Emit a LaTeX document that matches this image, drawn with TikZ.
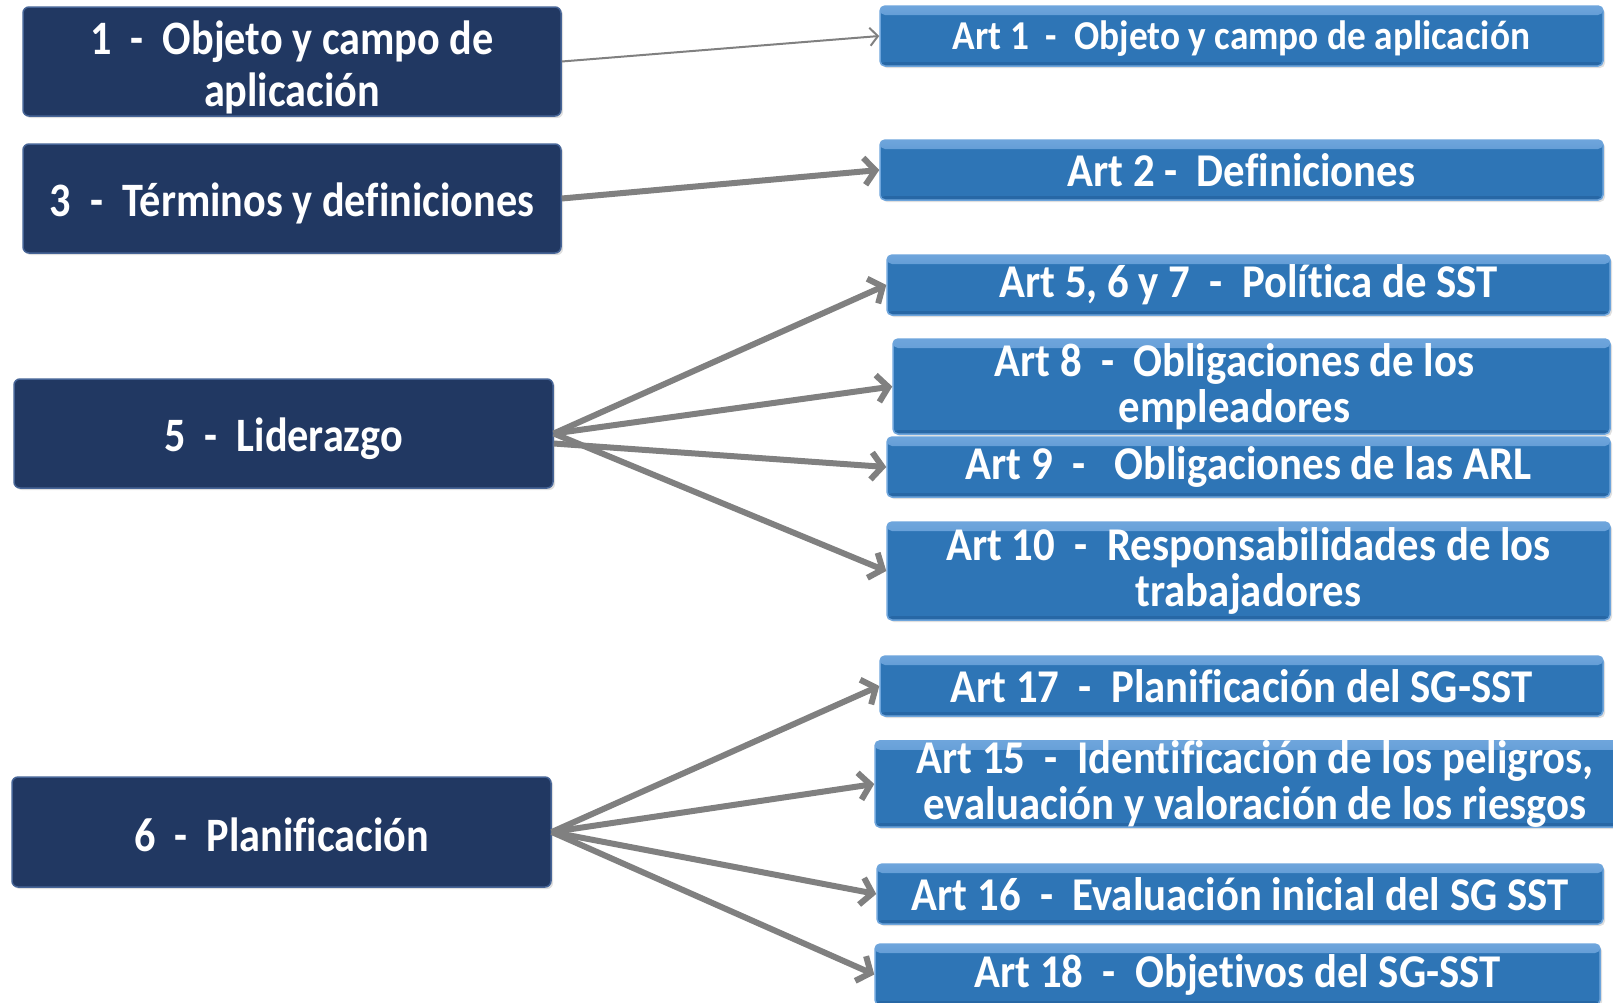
\documentclass[tikz,border=0pt]{standalone}
\usepackage{fontspec}
\setmainfont{Carlito}[FakeStretch=0.88, Ligatures=NoCommon]
\newfontfamily\rightfont{Carlito}[FakeStretch=0.91, Ligatures=NoCommon]
\usetikzlibrary{arrows.meta,shadows}
\definecolor{navy}{RGB}{33,56,98}
\definecolor{navyedge}{RGB}{70,100,150}
\definecolor{rblue}{RGB}{46,117,182}
\definecolor{rbluelight}{RGB}{110,165,220}
\definecolor{rbluedark}{RGB}{35,95,155}
\definecolor{arrowgray}{RGB}{128,128,128}
\tikzset{
  leftbox/.style={rectangle, rounded corners=6pt, fill=navy, draw=navyedge, line width=1.5pt,
    text=white, align=center, font=\bfseries\fontsize{48}{52}\selectfont,
    inner sep=0pt, drop shadow={opacity=0.25, shadow xshift=2pt, shadow yshift=-2pt}},
  rightbox/.style={rectangle, rounded corners=5pt, fill=rblue, draw=rbluelight, line width=1.5pt,
    text=white, align=center, font=\rightfont\bfseries\fontsize{47}{45.5}\selectfont,
    inner sep=0pt, drop shadow={opacity=0.25, shadow xshift=2pt, shadow yshift=-2pt},
    path picture={
      \shade[top color=rbluelight, bottom color=rblue]
        (path picture bounding box.north west) rectangle ([yshift=-9pt]path picture bounding box.north east);
      \fill[rbluedark, opacity=0.6]
        (path picture bounding box.south west) rectangle ([yshift=4pt]path picture bounding box.south east);
    }},
  conn/.style={draw=arrowgray, line width=6pt, -{Straight Barb[length=11pt,width=27pt]}},
  thinconn/.style={draw=arrowgray, line width=2pt, -{Straight Barb[length=8pt,width=18pt]}}
}
\begin{document}
\begin{tikzpicture}[x=1pt,y=-1pt]
\useasboundingbox[fill=white] (0,0) rectangle (1613,1002);

% left boxes
\node[leftbox, minimum width=538pt, minimum height=109pt] (L1) at (292,61.5) {\rule{0pt}{46pt}1~~-~~Objeto y campo de\\aplicación};
\node[leftbox, minimum width=538pt, minimum height=109pt] (L3) at (292,198.5) {\rule{0pt}{44pt}3~~-~~Términos y definiciones};
\node[leftbox, minimum width=539pt, minimum height=109pt] (L5) at (283.5,433.5) {\rule{0pt}{44pt}5~~-~~Liderazgo};
\node[leftbox, minimum width=539pt, minimum height=110pt] (L6) at (281.5,832) {\rule{0pt}{40pt}6~~-~~Planificación};

% right boxes
\node[rightbox, minimum width=723pt, minimum height=60pt, font=\rightfont\bfseries\fontsize{41}{44}\selectfont] (R1) at (1241.5,36) {\rule{0pt}{34pt}Art 1~~-~~Objeto y campo de aplicación};
\node[rightbox, minimum width=723pt, minimum height=60pt] (R2) at (1241.5,170) {Art 2 -~~Definiciones};
\node[rightbox, minimum width=723pt, minimum height=60pt] (R5) at (1248.5,285) {Art 5, 6 y 7~~-~~Política de SST};
\node[rightbox, minimum width=717pt, minimum height=95pt] (R8) at (1251.5,386.5) {Art 8~~-~~Obligaciones de los\hspace*{34pt}\\empleadores\hspace*{34pt}};
\node[rightbox, minimum width=723pt, minimum height=60pt] (R9) at (1248.5,467) {Art 9~~-~~~Obligaciones de las ARL};
\node[rightbox, minimum width=723pt, minimum height=98pt] (R10) at (1248.5,571) {Art 10~~-~~Responsabilidades de los\\trabajadores};
\node[rightbox, minimum width=723pt, minimum height=60pt] (R17) at (1241.5,686) {Art 17~~-~~Planificación del SG-SST};
\node[rightbox, minimum width=745pt, minimum height=86pt] (R15) at (1247.5,784) {\hspace*{15pt}Art 15~~-~~Identificación de los peligros,\\\hspace*{15pt}evaluación y valoración de los riesgos};
\node[rightbox, minimum width=726pt, minimum height=60pt] (R16) at (1240,894) {Art 16~~-~~Evaluación inicial del SG SST};
\node[rightbox, minimum width=725pt, minimum height=61pt] (R18) at (1237.5,974.5) {Art 18~~-~~Objetivos del SG-SST};

% connectors
\draw[thinconn] (L1.east) -- (R1.west);
\draw[conn] (L3.east) -- (R2.west);
\draw[conn] (L5.east) -- (R5.west);
\draw[conn] (L5.east) -- (R8.west);
\draw[conn] ([yshift=-10pt]L5.east) -- (R9.west);
\draw[conn] (L5.east) -- (R10.west);
\draw[conn] (L6.east) -- (R17.west);
\draw[conn] (L6.east) -- (R15.west);
\draw[conn] (L6.east) -- (R16.west);
\draw[conn] (L6.east) -- (R18.west);
\end{tikzpicture}
\end{document}
